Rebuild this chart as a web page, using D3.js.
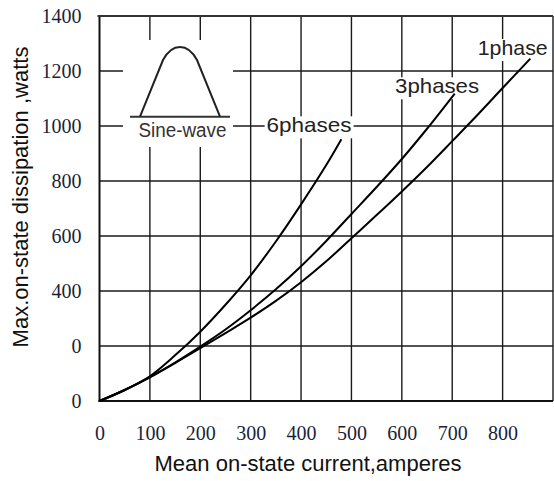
<!DOCTYPE html>
<html>
<head>
<meta charset="utf-8">
<script src="https://cdn.jsdelivr.net/npm/d3@7"></script>
<style>
  body { margin: 0; background: #fff; }
  svg { display: block; }
</style>
</head>
<body>
<div id="chart"></div>
<script>
// curves: [amperes, watts]
var phase1 = [[0, 0], [50, 40], [100, 86], [150, 138], [200, 192], [250, 247], [300, 303], [350, 364],
  [400, 432], [450, 508], [500, 592], [550, 676], [600, 762], [650, 851], [700, 945], [750, 1040],
  [800, 1138], [855, 1245]];
var phase3 = [[0, 0], [50, 40], [100, 87], [150, 140], [200, 198], [250, 260], [300, 330], [350, 406],
  [400, 490], [450, 582], [500, 680], [550, 778], [600, 880], [650, 990], [705, 1118]];
var phase6 = [[0, 0], [50, 40], [100, 90], [150, 166], [200, 252], [250, 350], [300, 457], [350, 580],
  [400, 715], [450, 858], [480, 952]];

var xTicks = [0, 100, 200, 300, 400, 500, 600, 700, 800];
var yTicks = [0, 200, 400, 600, 800, 1000, 1200, 1400];
var yTickLabels = ["0", "0", "400", "600", "800", "1000", "1200", "1400"];

// label anchors [amperes, watts]
var curveLabels = [
  { text: "1phase", at: [820, 1258], len: 70 },
  { text: "3phases", at: [670, 1119], len: 84 },
  { text: "6phases", at: [416, 977], len: 85 }
];

function main() {
  var W = 554, H = 481;
  var left = 99.5, right = 553, top = 16, bottom = 401;

  var svg = d3.select("#chart").append("svg")
    .attr("width", W)
    .attr("height", H);

  var x = d3.scaleLinear().domain([0, 900]).range([left, right]);
  var y = d3.scaleLinear().domain([0, 1400]).range([bottom, top]);

  // grid
  var grid = svg.append("g").attr("stroke", "#1a1a1a").attr("stroke-width", 1.4);
  grid.selectAll(".vg")
    .data(d3.range(100, 901, 100))
    .enter().append("line")
    .attr("x1", d => x(d)).attr("x2", d => x(d))
    .attr("y1", top).attr("y2", bottom);
  grid.selectAll(".hg")
    .data(d3.range(200, 1401, 200))
    .enter().append("line")
    .attr("x1", left).attr("x2", right)
    .attr("y1", d => y(d)).attr("y2", d => y(d));

  // frame
  svg.append("line").attr("x1", left).attr("x2", left).attr("y1", top - 1).attr("y2", bottom + 1)
    .attr("stroke", "#111").attr("stroke-width", 2);
  svg.append("line").attr("x1", left - 1).attr("x2", right).attr("y1", bottom).attr("y2", bottom)
    .attr("stroke", "#111").attr("stroke-width", 2);
  svg.append("line").attr("x1", left - 2).attr("x2", right).attr("y1", top).attr("y2", top)
    .attr("stroke", "#333").attr("stroke-width", 2);

  // white box behind the inset
  svg.append("rect").attr("x", 123).attr("y", 40).attr("width", 110).attr("height", 107).attr("fill", "#fff");

  // white boxes behind the curve labels
  var boxes = svg.append("g");
  var lab = svg.append("g")
    .style("font-family", "'Liberation Sans', Arial, sans-serif")
    .style("font-size", "21px")
    .attr("fill", "#222");

  curveLabels.forEach(function (d) {
    var cx = x(d.at[0]), by = y(d.at[1]);
    boxes.append("rect")
      .attr("x", cx - d.len / 2 - 2).attr("y", by - 16)
      .attr("width", d.len + 4).attr("height", 22)
      .attr("fill", "#fff");
    lab.append("text")
      .attr("x", cx).attr("y", by)
      .attr("text-anchor", "middle")
      .attr("textLength", d.len)
      .attr("lengthAdjust", "spacingAndGlyphs")
      .text(d.text);
  });

  // sine-wave inset
  var inset = svg.append("g");
  inset.append("line").attr("x1", 130).attr("x2", 230).attr("y1", 116.7).attr("y2", 116.7)
    .attr("stroke", "#333").attr("stroke-width", 2);
  inset.append("path")
    .attr("d", "M140,116.7 L163,60 Q170,47 180,47 Q190,47 197,60 L220,116.7")
    .attr("fill", "none").attr("stroke", "#222").attr("stroke-width", 2);
  inset.append("text")
    .attr("x", 182.5).attr("y", 137)
    .attr("text-anchor", "middle")
    .attr("textLength", 88)
    .attr("lengthAdjust", "spacingAndGlyphs")
    .style("font-family", "'Liberation Sans', Arial, sans-serif")
    .style("font-size", "20px")
    .attr("fill", "#333")
    .text("Sine-wave");

  // curves
  var line = d3.line()
    .x(d => x(d[0]))
    .y(d => y(d[1]))
    .curve(d3.curveCatmullRom.alpha(0.5));

  svg.append("g").selectAll("path")
    .data([phase1, phase3, phase6])
    .enter().append("path")
    .attr("d", line)
    .attr("fill", "none")
    .attr("stroke", "#000")
    .attr("stroke-width", 2);

  lab.raise();

  // axes
  var xAxis = svg.append("g")
    .attr("transform", "translate(0," + bottom + ")")
    .call(d3.axisBottom(x).tickValues(xTicks).tickSize(0).tickPadding(25).tickFormat(d3.format("d")));
  var yAxis = svg.append("g")
    .attr("transform", "translate(" + left + ",0)")
    .call(d3.axisLeft(y).tickValues(yTicks).tickSize(0).tickPadding(18)
      .tickFormat((d, i) => yTickLabels[i]));

  [xAxis, yAxis].forEach(function (a) {
    a.select(".domain").remove();
    a.selectAll("text")
      .style("font-family", "'Liberation Serif', 'Times New Roman', serif")
      .style("font-size", "20px")
      .attr("fill", "#1c1f3a");
  });

  // axis titles
  svg.append("text")
    .attr("x", 308).attr("y", 471)
    .attr("text-anchor", "middle")
    .style("font-family", "'Liberation Sans', Arial, sans-serif")
    .style("font-size", "22px")
    .attr("fill", "#111")
    .text("Mean on-state current,amperes");

  svg.append("text")
    .attr("transform", "rotate(-90)")
    .attr("x", -197).attr("y", 28)
    .attr("text-anchor", "middle")
    .style("font-family", "'Liberation Sans', Arial, sans-serif")
    .style("font-size", "22px")
    .attr("fill", "#111")
    .text("Max.on-state dissipation ,watts");
}

window.addEventListener('load', main);
</script>
</body>
</html>
